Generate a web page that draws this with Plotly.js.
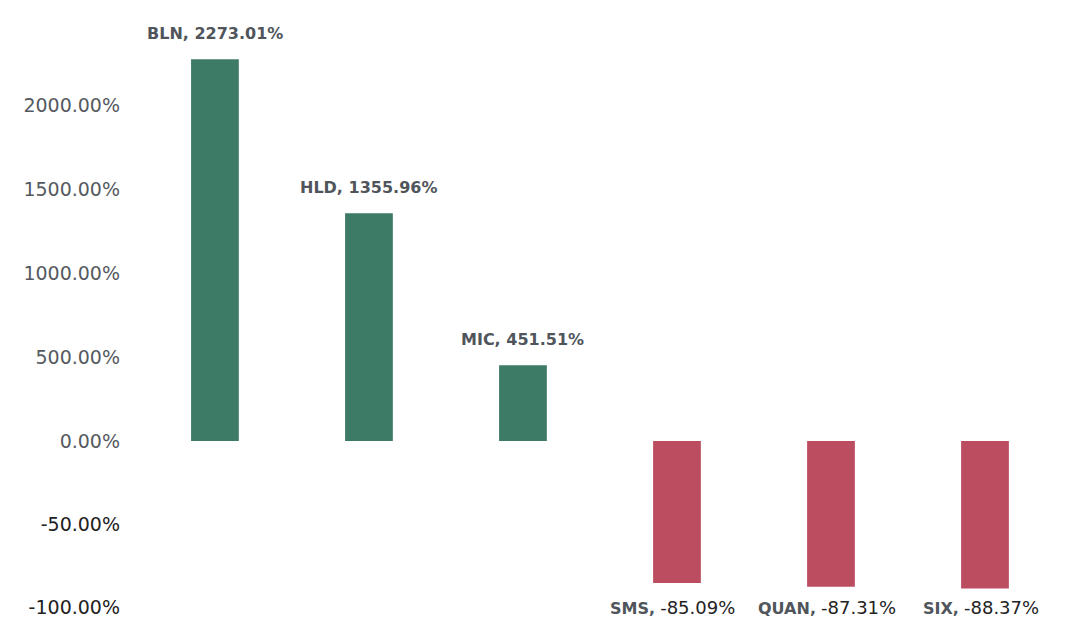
<!DOCTYPE html>
<html>
<head>
<meta charset="utf-8">
<script src="https://cdn.plot.ly/plotly-3.0.1.min.js"></script>
<style>html,body{margin:0;padding:0;background:#fff;}#chart{width:1080px;height:640px;}</style>
</head>
<body>
<div id="chart"></div>
<script>
// Data
var gainers = ['BLN', 'HLD', 'MIC'];
var gainerValues = [2273.01, 1355.96, 451.51];
var losers = ['SMS', 'QUAN', 'SIX'];
var loserValues = [-85.09, -87.31, -88.37];
var posTicks = [0, 500, 1000, 1500, 2000];
var negTicks = [-50, -100];

var allNames = gainers.concat(losers);
function pct(v) { return v.toFixed(2) + '%'; }

var green = '#3d7b67';
var red = '#bc4c60';

var traces = [
  {
    type: 'bar', x: gainers, y: gainerValues, xaxis: 'x', yaxis: 'y',
    width: 0.31, marker: {color: green}, hoverinfo: 'x+y'
  },
  {
    type: 'bar', x: losers, y: loserValues, xaxis: 'x', yaxis: 'y2',
    width: 0.31, marker: {color: red}, hoverinfo: 'x+y'
  }
];

var annotations = [];
gainers.forEach(function (n, i) {
  annotations.push({
    x: n, y: gainerValues[i], xref: 'x', yref: 'y',
    text: n + ', ' + pct(gainerValues[i]),
    showarrow: false, yanchor: 'middle', yshift: 26,
    font: {family: 'DejaVu Sans', size: 16, color: '#50555c', weight: 'bold'}
  });
});
losers.forEach(function (n, i) {
  annotations.push({
    x: n, y: -100, xref: 'x', yref: 'y2',
    text: '<b>' + n + ',</b> <span style="color:#222;font-size:18px">' + pct(loserValues[i]) + '</span>',
    showarrow: false, yanchor: 'middle', xshift: -4,
    font: {family: 'DejaVu Sans', size: 16, color: '#50555c'}
  });
});

var zeroFrac = (640 - 441) / 640;

var layout = {
  width: 1080, height: 640,
  margin: {l: 121, r: 18, t: 0, b: 0},
  paper_bgcolor: '#fff', plot_bgcolor: '#fff',
  showlegend: false,
  barmode: 'overlay',
  xaxis: {
    type: 'category', categoryorder: 'array', categoryarray: allNames,
    range: [-0.61, 5.5], showticklabels: false, showgrid: false,
    zeroline: false, showline: false, ticks: ''
  },
  yaxis: {
    domain: [zeroFrac, 1], range: [0, 2625],
    tickvals: posTicks, ticktext: posTicks.map(pct),
    tickfont: {family: 'DejaVu Sans', size: 19, color: '#555a60'},
    showgrid: false, zeroline: false, showline: false, ticks: ''
  },
  yaxis2: {
    domain: [0, zeroFrac], range: [-119.3, 0],
    tickvals: negTicks, ticktext: negTicks.map(pct),
    tickfont: {family: 'DejaVu Sans', size: 19, color: '#222'},
    showgrid: false, zeroline: false, showline: false, ticks: ''
  },
  annotations: annotations
};

Plotly.newPlot('chart', traces, layout, {staticPlot: true, displayModeBar: false});
</script>
</body>
</html>
